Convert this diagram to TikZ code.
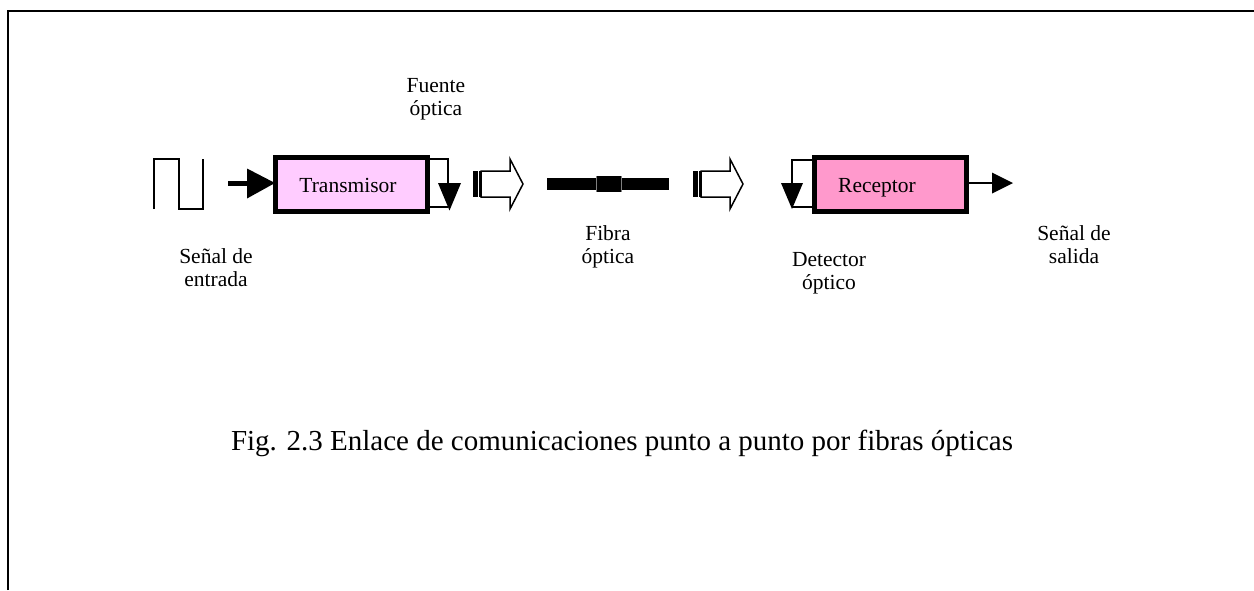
\documentclass[tikz,border=0pt]{standalone}
\usepackage{fontspec}
\setmainfont{Liberation Serif}
\usetikzlibrary{arrows.meta}
\definecolor{txpink}{HTML}{FFCCFF}
\definecolor{rxpink}{HTML}{FF99CC}
\begin{document}
\begin{tikzpicture}[x=1pt,y=-1pt,
  block/.style={draw=black,line width=5pt,minimum width=152pt,minimum height=54pt,inner sep=0pt,outer sep=0pt},
  lbl/.style={align=center,font=\fontsize{21.5}{23.5}\selectfont,inner sep=0pt,anchor=base},
  thin/.style={line width=2pt},
  wave/.style={line width=1.6pt},
  hollow/.style={draw=black,line width=1.5pt,fill=white,line join=miter}]
\useasboundingbox (0,0) rectangle (1254,590);
% frame
\draw[line width=2pt] (8,590) -- (8,11) -- (1254,11);
% blocks
\node[block,fill=txpink] (tx) at (351,184) {};
\node[lbl] (txt) at (348,192) {Transmisor};
\node[block,fill=rxpink] (rx) at (890,184) {};
\node[lbl] (rxt) at (877,192) {Receptor};
% input square wave
\draw[wave] (154,209) -- (154,159) -- (179,159) -- (179,209) -- (203,209) -- (203,159);
% input arrow
\coordinate (inA) at (228,183);
\draw[line width=5pt] (inA) -- (249,183);
\fill (247,168.5) -- (tx.west |- 0,183) -- (247,198.5) -- cycle;
% transmitter feedback
\coordinate (tf1) at (448,159);
\coordinate (tf2) at (448,207);
\draw[thin] ([yshift=-2pt]tx.north east) -- (tf1) -- (448,186);
\draw[thin] ([yshift=4pt]tx.south east) -- (tf2);
\fill (438,183) -- (461,183) -- (449.5,210.5) -- cycle;
% hollow striped arrows
\foreach \x/\n in {473/ha, 693/hb}{
  \fill (\x,171) rectangle ++(4.5,26);
  \fill (\x+5.5,171) rectangle ++(2.5,26);
  \draw[hollow] (\x+8,171) -- (\x+37,171) -- (\x+37,159) -- (\x+50,184) -- (\x+37,209) -- (\x+37,197) -- (\x+8,197) -- cycle;
}
% fiber
\fill (547,178) rectangle (669,190);
\fill (596,176) rectangle (621,192);
\draw[gray,line width=0.8pt] (596,176) -- (596,192) (621,176) -- (621,192);
% receiver feedback
\coordinate (rf1) at (792,160);
\coordinate (rf2) at (792,207);
\draw[thin] ([yshift=-3pt]rx.north west) -- (rf1) -- (792,186);
\draw[thin] ([yshift=4pt]rx.south west) -- (rf2);
\fill (781,183) -- (803,183) -- (792,209) -- cycle;
% output arrow
\coordinate (outA) at (1013,183);
\draw[thin] (rx.east |- 0,183) -- (993,183);
\fill (992,172.5) -- (outA) -- (992,193.5) -- cycle;
% labels (anchor at baseline of last line)
\node[lbl] (fuente) at (436,115.5) {Fuente\\óptica};
\node[lbl] (entrada) at (216,286.5) {Señal de\\entrada};
\node[lbl] (fibra) at (608,263.5) {Fibra\\óptica};
\node[lbl] (detector) at (829,289.5) {Detector\\óptico};
\node[lbl] (salida) at (1074,263.5) {Señal de\\salida};
\node[lbl,font=\fontsize{29}{33}\selectfont] (caption) at (622,450) {Fig. 2.3 Enlace de comunicaciones punto a punto por fibras ópticas};
\end{tikzpicture}
\end{document}
